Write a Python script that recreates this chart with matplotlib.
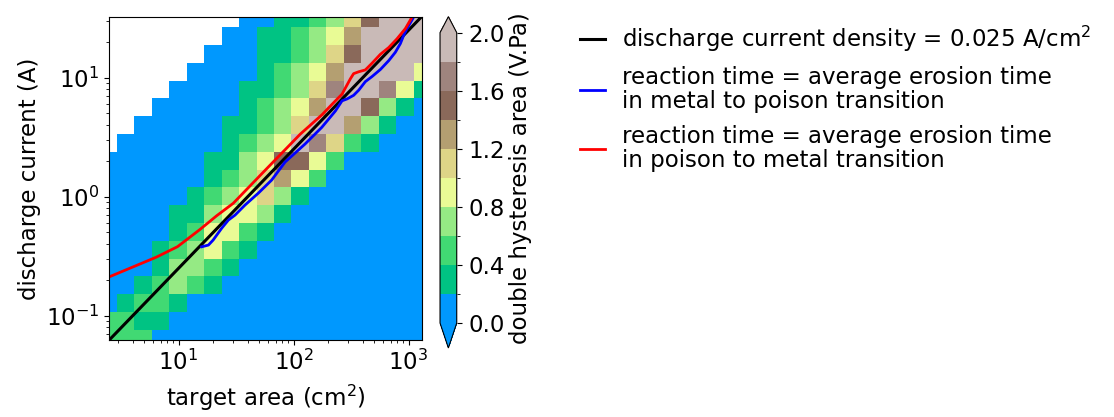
import numpy as np
import matplotlib.pyplot as plt
from matplotlib.colors import ListedColormap, BoundaryNorm

N = np.nan

# cell edges of the (target area, discharge current) grid, log spaced
area_edges = np.logspace(0.310, 3.198, 20)        # cm2
current_edges = np.logspace(-1.268, 1.574, 20)    # A

# double hysteresis area (V.Pa) per cell, top row first
hysteresis = [
    [N, N, N, N, N, N, N, N, .1, .1, .3, .3, .5, .7, 1.1, 1.5, 1.9, 1.9, 1.9],
    [N, N, N, N, N, N, N, .1, .1, .3, .3, .5, .7, .9, 1.3, 1.9, 1.9, 1.9, 1.9],
    [N, N, N, N, N, N, .1, .1, .1, .3, .3, .5, .7, 1.1, 1.5, 1.9, 1.9, 1.9, 1.9],
    [N, N, N, N, N, .1, .1, .1, .1, .3, .5, .7, .9, 1.3, 1.9, 1.9, 1.9, 1.9, .9],
    [N, N, N, N, .1, .1, .1, .1, .3, .3, .5, .7, 1.1, 1.7, 1.9, 1.9, 1.7, .9, .3],
    [N, N, N, .1, .1, .1, .1, .1, .3, .5, .7, .9, 1.3, 1.9, 1.9, 1.5, .7, .3, .1],
    [N, N, .1, .1, .1, .1, .1, .3, .3, .5, .7, 1.1, 1.9, 1.9, 1.3, .7, .3, .1, .1],
    [N, .1, .1, .1, .1, .1, .1, .3, .5, .7, .9, 1.9, 1.7, 1.1, .5, .3, .1, .1, .1],
    [.1, .1, .1, .1, .1, .1, .3, .3, .7, .9, 1.5, 1.5, .9, .5, .1, .1, .1, .1, .1],
    [.1, .1, .1, .1, .1, .1, .3, .5, .7, 1.1, 1.3, .9, .5, .1, .1, .1, .1, .1, .1],
    [.1, .1, .1, .1, .1, .3, .5, .7, .9, 1.1, .7, .3, .1, .1, .1, .1, .1, .1, .1],
    [.1, .1, .1, .1, .3, .3, .7, .9, .9, .7, .3, .1, .1, .1, .1, .1, .1, .1, .1],
    [.1, .1, .1, .1, .3, .5, .9, .9, .5, .3, .1, .1, .1, .1, .1, .1, .1, .1, .1],
    [.1, .1, .1, .3, .5, .7, .9, .5, .3, .1, .1, .1, .1, .1, .1, .1, .1, .1, .1],
    [.1, .1, .1, .3, .7, .7, .5, .3, .1, .1, .1, .1, .1, .1, .1, .1, .1, .1, .1],
    [.1, .1, .3, .5, .7, .5, .3, .1, .1, .1, .1, .1, .1, .1, .1, .1, .1, .1, .1],
    [.1, .3, .5, .5, .3, .1, .1, .1, .1, .1, .1, .1, .1, .1, .1, .1, .1, .1, .1],
    [.5, .5, .3, .3, .1, .1, .1, .1, .1, .1, .1, .1, .1, .1, .1, .1, .1, .1, .1],
    [.5, .5, .5, .1, .1, .1, .1, .1, .1, .1, .1, .1, .1, .1, .1, .1, .1, .1, .1],
]

# discharge current density line
density = 0.025            # A/cm2
density_area = [2.5, 1300]

# reaction time = erosion time, metal -> poison
mp_area = [15.9, 18.2, 20.0, 23.7, 27.1, 31.0, 37.8, 49.4, 64.6, 84.3, 126, 176, 231,
           264, 292, 333, 369, 421, 481, 569, 673, 767, 849, 908, 971, 1072, 1122]
mp_current = [0.379, 0.392, 0.432, 0.542, 0.635, 0.700, 0.849, 1.07, 1.38, 1.95, 2.77,
              3.82, 5.24, 6.38, 6.62, 7.10, 7.85, 9.25, 10.2, 11.7, 13.9, 16.3, 19.3,
              22.7, 25.9, 30.5, 33.1]

# reaction time = erosion time, poison -> metal
pm_area = [2.5, 6.4, 9.8, 15.4, 21.5, 29.9, 58.5, 114, 177, 216, 264, 312, 333, 369,
           421, 481, 569, 673, 794, 938, 1038, 1084]
pm_current = [0.212, 0.31, 0.38, 0.531, 0.692, 0.879, 1.72, 3.34, 4.88, 5.96, 7.26,
              9.77, 10.8, 11.2, 11.6, 13.2, 15.7, 17.9, 21.2, 25.8, 30.5, 33.1]

levels = np.arange(0, 2.01, 0.2)
cbar_ticks = [0.0, 0.4, 0.8, 1.2, 1.6, 2.0]

plt.rcParams['font.size'] = 16.5

band_colors = plt.cm.terrain(np.linspace(0.15, 0.8925, 10))
cmap = ListedColormap(band_colors).with_extremes(under=band_colors[0], over=band_colors[-1])
norm = BoundaryNorm(levels, cmap.N)

fig = plt.figure(figsize=(11.14, 4.17), dpi=100)
ax = fig.add_axes([0.0981, 0.1847, 0.2804, 0.7753])
cax = fig.add_axes([0.395, 0.1655, 0.015, 0.7945])

Z = np.ma.masked_invalid(np.array(hysteresis)[::-1])
mesh = ax.pcolormesh(area_edges, current_edges, Z, cmap=cmap, norm=norm)

da = np.array(density_area)
ax.plot(da, density * da, color='black', lw=2.2,
        label='discharge current density = 0.025 A/cm$^2$')
ax.plot(mp_area, mp_current, color='blue', lw=2,
        label='reaction time = average erosion time\nin metal to poison transition')
ax.plot(pm_area, pm_current, color='red', lw=2,
        label='reaction time = average erosion time\nin poison to metal transition')

ax.set_xscale('log')
ax.set_yscale('log')
ax.set_xlim(2.5, 1300)
ax.set_ylim(0.0625, 32.5)
ax.set_xlabel('target area (cm$^2$)', labelpad=6)
ax.set_ylabel('discharge current (A)')

cb = fig.colorbar(mesh, cax=cax, extend='both', extendfrac=[0.086, 0.055], ticks=cbar_ticks)
cb.ax.set_yticklabels(['%.1f' % t for t in cbar_ticks])
cb.ax.tick_params(pad=5)
cb.set_label('double hysteresis area (V.Pa)', labelpad=3)

leg = fig.legend(loc='upper left', bbox_to_anchor=(0.502, 0.992), frameon=False,
                 fontsize=16.5, handlelength=1.1, handletextpad=0.75, labelspacing=0.5)
for t in leg.get_texts():
    t.set_linespacing(1.08)

fig.savefig('out.png', dpi=100)
